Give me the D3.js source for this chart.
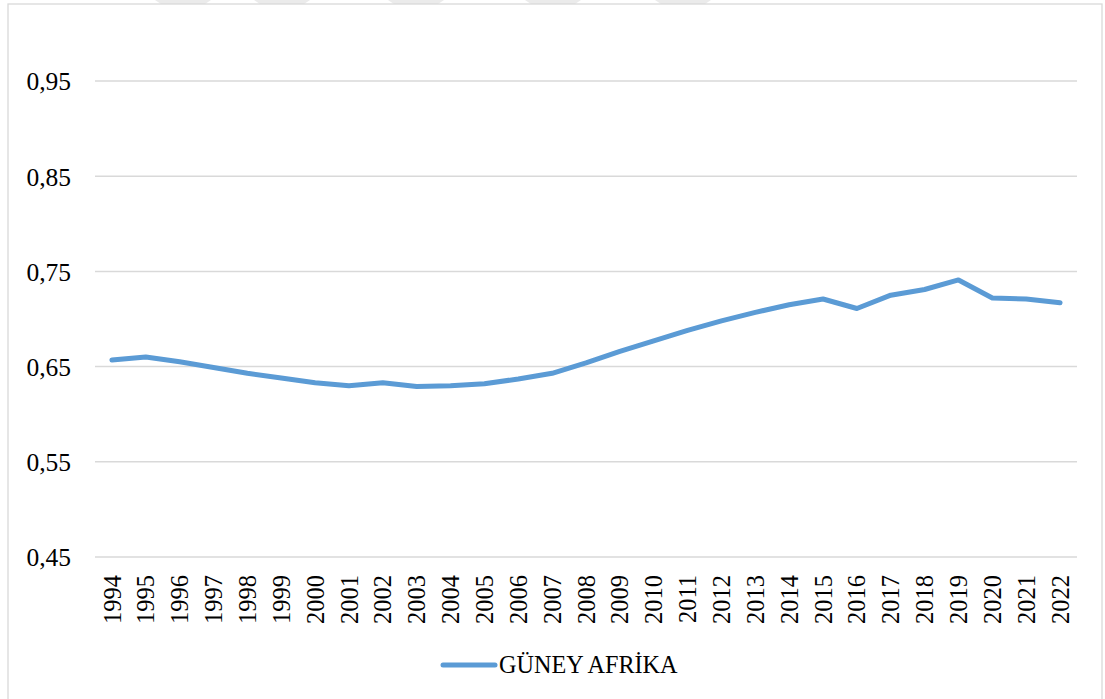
<!DOCTYPE html>
<html>
<head>
<meta charset="utf-8">
<script src="https://cdn.jsdelivr.net/npm/d3@7"></script>
<style>
  html, body { margin: 0; padding: 0; background: #fff; }
  svg { display: block; }
  text { font-family: "Liberation Serif", "Times New Roman", serif; fill: #000; }
</style>
</head>
<body>
<svg id="chart" width="1105" height="699"></svg>
<script>
const years = ["1994","1995","1996","1997","1998","1999","2000","2001","2002","2003","2004","2005","2006","2007","2008","2009","2010","2011","2012","2013","2014","2015","2016","2017","2018","2019","2020","2021","2022"];
const values = [0.657,0.660,0.655,0.649,0.643,0.638,0.633,0.630,0.633,0.629,0.630,0.632,0.637,0.643,0.654,0.666,0.677,0.688,0.698,0.707,0.715,0.721,0.711,0.725,0.731,0.741,0.722,0.721,0.717];
const yTicks = [0.45,0.55,0.65,0.75,0.85,0.95];
const seriesName = "GÜNEY AFRİKA";

const FS = 24.5;
const svg = d3.select("#chart");

// faint watermark shapes at the very top
const wm = [155, 254, 388, 525, 655];
svg.selectAll("polygon.wm").data(wm).enter().append("polygon")
  .attr("points", d => `${d},0 ${d+56},0 ${d+50},4 ${d+6},4`)
  .attr("fill", "#ebebeb");

// chart border
svg.append("rect").attr("x", 8).attr("y", 4).attr("width", 1094).attr("height", 720)
  .attr("fill", "none").attr("stroke", "#d9d9d9").attr("stroke-width", 1.3);

const x = d3.scalePoint().domain(years).range([95, 1077]).padding(0.5);
const y = d3.scaleLinear().domain([0.45, 1.0]).range([557, 33.4]);

// gridlines
svg.append("g").selectAll("line").data(yTicks).enter().append("line")
  .attr("x1", 95).attr("x2", 1077)
  .attr("y1", d => y(d)).attr("y2", d => y(d))
  .attr("stroke", "#d9d9d9").attr("stroke-width", 1.5);

// y axis labels
const fmt = d => d3.format(".2f")(d).replace(".", ",");
const yAxis = d3.axisLeft(y).tickValues(yTicks).tickFormat(fmt).tickSize(0).tickPadding(0);
const gy = svg.append("g").attr("transform", "translate(71,0)").call(yAxis);
gy.select(".domain").remove();
gy.attr("font-family", null).attr("font-size", null);
gy.selectAll("text").attr("font-size", 25.5).attr("font-family", "Liberation Serif").attr("fill", "#000").attr("dy", "0.35em");

// x axis labels
const xAxis = d3.axisBottom(x).tickSize(0).tickPadding(0);
const gx = svg.append("g").attr("transform", "translate(0,557)").call(xAxis);
gx.select(".domain").remove();
gx.attr("font-family", null).attr("font-size", null);
gx.selectAll("text")
  .attr("font-size", FS).attr("font-family", "Liberation Serif").attr("fill", "#000")
  .attr("text-anchor", "end")
  .attr("transform", "rotate(-90)")
  .attr("x", -18).attr("y", 0).attr("dy", "0.33em");

// line
const line = d3.line().x((d, i) => x(years[i])).y(d => y(d));
svg.append("path").datum(values)
  .attr("d", line)
  .attr("fill", "none").attr("stroke", "#5b9bd5").attr("stroke-width", 5)
  .attr("stroke-linejoin", "round").attr("stroke-linecap", "round");

// legend
const lg = svg.append("g");
lg.append("line").attr("x1", 443).attr("x2", 495).attr("y1", 665).attr("y2", 665)
  .attr("stroke", "#5b9bd5").attr("stroke-width", 5).attr("stroke-linecap", "round");
lg.append("text").attr("x", 499).attr("y", 665).attr("dy", "0.35em")
  .attr("font-size", 24.2).text(seriesName);
</script>
</body>
</html>
